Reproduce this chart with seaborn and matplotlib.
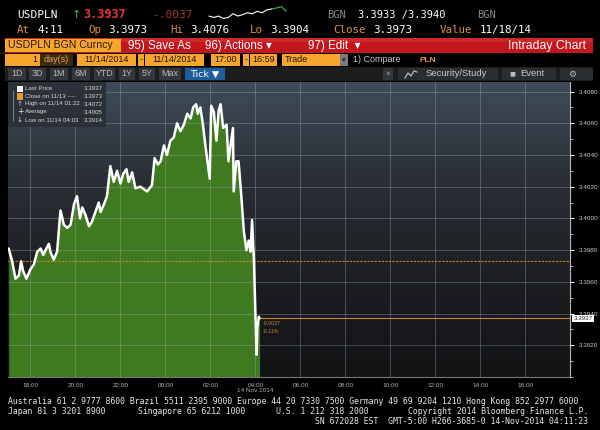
import numpy as np
import pandas as pd
import matplotlib
matplotlib.use("Agg")
import matplotlib.pyplot as plt
import matplotlib.dates as mdates
import matplotlib.transforms as mtransforms
from matplotlib.patches import Rectangle
from matplotlib.colors import LinearSegmentedColormap
from matplotlib.ticker import FormatStrFormatter, MultipleLocator
import seaborn as sns

# intraday ticks USDPLN, 13 Nov 17:00 -> 14 Nov 04:11
times = ["17:02", "17:11", "17:20", "17:29", "17:35", "17:40", "17:49", "18:00", "18:09", "18:18",
         "18:27", "18:34", "18:40", "18:49", "18:53", "19:02", "19:11", "19:20", "19:29", "19:38",
         "19:47", "19:56", "20:04", "20:12", "20:18", "20:27", "20:36", "20:44", "20:53", "21:02",
         "21:07", "21:16", "21:24", "21:33", "21:42", "21:51", "22:00", "22:07", "22:16", "22:22",
         "22:31", "22:40", "22:53", "23:11", "23:24", "23:31", "23:40", "23:47", "23:56", "00:04",
         "00:13", "00:22", "00:31", "00:40", "00:49", "00:58", "01:07", "01:14", "01:22", "01:26",
         "01:33", "01:40", "01:47", "01:58", "02:02", "02:09", "02:16", "02:22", "02:27", "02:34",
         "02:43", "02:48", "02:53", "03:00", "03:02", "03:09", "03:15", "03:22", "03:29", "03:36",
         "03:42", "03:47", "03:51", "03:56", "04:03", "04:05", "04:09", "04:11"]
prices = [3.3981, 3.3973, 3.3962, 3.3964, 3.3973, 3.3967, 3.3962, 3.3968, 3.3971, 3.3979,
          3.3981, 3.3977, 3.3980, 3.3984, 3.3979, 3.3974, 3.3979, 3.4005, 3.3996, 3.3994,
          3.3996, 3.4009, 3.4014, 3.4000, 3.4007, 3.4002, 3.3995, 3.3998, 3.4004, 3.4010,
          3.4004, 3.4009, 3.4014, 3.4033, 3.4023, 3.4030, 3.4022, 3.4028, 3.4031, 3.4023,
          3.4029, 3.4019, 3.4020, 3.4017, 3.4021, 3.4038, 3.4034, 3.4036, 3.4046, 3.4040,
          3.4049, 3.4051, 3.4060, 3.4055, 3.4059, 3.4066, 3.4063, 3.4070, 3.4072, 3.4066,
          3.4070, 3.4059, 3.4045, 3.4025, 3.4071, 3.4067, 3.4049, 3.4068, 3.4072, 3.4057,
          3.4059, 3.4036, 3.4045, 3.4057, 3.4017, 3.4036, 3.4036, 3.4015, 3.3992, 3.3980,
          3.3986, 3.3979, 3.3999, 3.3973, 3.3914, 3.3931, 3.3938, 3.3937]

close_prev = 3.3973
last_price = 3.3937
y_ticks = [3.3920, 3.3940, 3.3960, 3.3980, 3.4000, 3.4020, 3.4040, 3.4060, 3.4080]
y_range = (3.3900, 3.4086)

legend_rows = ["Last Price", "Close on 11/13 ----", "High on 11/14 01:22", "Average", "Low on 11/14 04:03"]
legend_vals = ["3.3937", "3.3973", "3.4072", "3.4005", "3.3914"]

# little header sparkline
spark_white = [5, 2, 5, 0, 2, 10, 5, 8, 12, 10, 15, 12, 18, 20]
spark_green = [20, 22, 25, 15]

footer = [
    "Australia 61 2 9777 8600 Brazil 5511 2395 9000 Europe 44 20 7330 7500 Germany 49 69 9204 1210 Hong Kong 852 2977 6000",
    "SN 672028 EST  GMT-5:00 H266-3685-0 14-Nov-2014 04:11:23",
]


def stamp(t):
    day = "2014-11-13" if int(t[:2]) >= 17 else "2014-11-14"
    return pd.Timestamp(f"{day} {t}")


df = pd.DataFrame({"time": [stamp(t) for t in times], "price": prices})

sns.set_style("dark")
SANS = ["Liberation Sans", "DejaVu Sans"]
MONO = ["DejaVu Sans Mono"]
plt.rcParams["font.family"] = SANS

W, H = 600, 430
fig = plt.figure(figsize=(6, 4.3), dpi=100, facecolor="black")


def box(x, y, w, h, color, z=1, alpha=1.0):
    fig.add_artist(Rectangle((x / W, 1 - (y + h) / H), w / W, h / H, transform=fig.transFigure,
                             facecolor=color, edgecolor="none", zorder=z, alpha=alpha))


def put(x, y, s, color="white", size=7, ha="left", family=SANS, weight="normal", z=6):
    fig.text(x / W, 1 - y / H, s, color=color, fontsize=size, ha=ha, va="center",
             family=family, fontweight=weight, zorder=z)


# ---- header rows
ORG = "#d9933f"
put(17, 15, "USDPLN", size=8, family=MONO)
put(72, 15, "↑", color="#3cc23c", size=8, family=["DejaVu Sans"])
put(83, 15, "3.3937", color="#e8383a", size=8.5, family=MONO, weight="bold")
put(152, 15, "-.0037", color="#a83a3a", size=8, family=MONO)
put(327, 15, "BGN", color="#8a8a8a", size=7.5, family=MONO)
put(358, 15, "3.3933 /3.3940", size=7.5, family=MONO)
put(477, 15, "BGN", color="#8a8a8a", size=7.5, family=MONO)

row2 = [(17, "At", ORG), (38, "4:11", "white"), (88, "Op", ORG), (108, "3.3973", "white"),
        (170, "Hi", ORG), (190, "3.4076", "white"), (250, "Lo", ORG), (270, "3.3904", "white"),
        (333, "Close", ORG), (373, "3.3973", "white"), (440, "Value", ORG), (480, "11/18/14", "white")]
for x, s, c in row2:
    put(x, 30, s, color=c, size=7.8, family=MONO)

sp = fig.add_axes([205 / W, 1 - 19 / H, 85 / W, 13 / H])
n_w = len(spark_white)
sns.lineplot(x=list(range(n_w)), y=spark_white, ax=sp, color="white", lw=0.8)
sns.lineplot(x=list(range(n_w - 1, n_w - 1 + len(spark_green))), y=spark_green, ax=sp, color="#3cc23c", lw=0.8)
sp.axis("off")

# red toolbar
box(5, 38, 588, 15, "#c3161c")
box(5, 38, 588, 4, "#d83a3a", z=1.1, alpha=0.5)
box(5, 39, 116, 13, "#f6a62d", z=2)
put(8, 45.5, "USDPLN BGN Curncy", color="#2a1800", size=7.6)
put(128, 45.5, "95) Save As", size=8.4)
put(205, 45.5, "96) Actions ▾", size=8.4)
put(308, 45.5, "97) Edit  ▾", size=8.4)
put(586, 45.5, "Intraday Chart", size=8.8, ha="right")

# orange parameter row
for x0, w0, label, ha in [(5, 35, "1", "right"), (77, 59, "11/14/2014", "center"), (145, 59, "11/14/2014", "center"),
                          (211, 29, "17:00", "center"), (250, 27, "16:59", "center"), (282, 58, "Trade", "left")]:
    box(x0, 54, w0, 12, "#f6a62d", z=2)
    tx = {"right": x0 + w0 - 3, "center": x0 + w0 / 2, "left": x0 + 3}[ha]
    put(tx, 60, label, color="#1e1200", size=6.5, ha=ha)
box(40, 54, 33, 12, "#3b2c10", z=2)
put(56, 60, "day(s)", color="#e0a858", size=6.5, ha="center")
for x0 in (138, 243):
    box(x0, 54, 6, 12, "#f6a62d", z=2)
    put(x0 + 3, 60, "-", color="#1e1200", size=6.3, ha="center")
box(340, 54, 8, 12, "#7a7a7a", z=2)
put(344, 60, "▾", color="#202020", size=5, ha="center", family=["DejaVu Sans"])
put(353, 60, "1) Compare", color="#c8c8c8", size=6.5)
put(420, 60, "PLN", color=ORG, size=6, weight="bold")

# grey button row
box(5, 67, 588, 14, "#1b1d1f")
for x0, w0, label in [(8, 18, "1D"), (29, 17, "3D"), (50, 18, "1M"), (72, 18, "6M"), (94, 21, "YTD"),
                      (119, 16, "1Y"), (139, 16, "5Y"), (159, 22, "Max")]:
    box(x0, 68, w0, 12, "#34373a", z=2)
    put(x0 + w0 / 2, 74, label, color="#b8b8b8", size=6.4, ha="center")
box(185, 68, 40, 12, "#1f5e9e", z=2)
put(190, 74, "Tick ▼", size=6.8, family=["DejaVu Sans"])
box(383, 68, 10, 12, "#34373a", z=2)
put(388, 74, "«", color="#aaaaaa", size=5.5, ha="center", family=["DejaVu Sans"])
box(398, 68, 100, 12, "#2b2e31", z=2)
# small chart glyph drawn as a line
fig.add_artist(plt.Line2D([405 / W, 408 / W, 411 / W, 414 / W, 417 / W],
                          [1 - 78 / H, 1 - 73 / H, 1 - 76 / H, 1 - 71 / H, 1 - 72 / H],
                          transform=fig.transFigure, color="#bbbbbb", lw=0.9, zorder=6))
put(426, 74, "Security/Study", color="#c8c8c8", size=6.8)
box(502, 68, 54, 12, "#2b2e31", z=2)
put(512, 74, "■", color="#bbbbbb", size=4.5, ha="center", family=["DejaVu Sans"])
put(520, 74, "Event", color="#c8c8c8", size=6.8)
box(560, 68, 33, 12, "#2b2e31", z=2)
put(572, 74, "⚙", color="#bbbbbb", size=6.5, ha="center", family=["DejaVu Sans"])

# ---- main chart
ax = fig.add_axes([8 / W, 1 - 377 / H, 562 / W, 295 / H])
green = "#3f7a20"
ax.fill_between(df["time"], df["price"], y_range[0], color=green, lw=0, zorder=2)
sns.lineplot(data=df, x="time", y="price", ax=ax, color="white", lw=1.8, zorder=4)

x0 = pd.Timestamp("2014-11-13 17:00")
x1 = pd.Timestamp("2014-11-14 17:59")
ax.axhline(close_prev, color="#c8862c", lw=0.8, ls=(0, (2, 1.2)), zorder=3)
ax.hlines(last_price, df["time"].iloc[-1], x1, color="#c8862c", lw=0.8, zorder=3)

bg = LinearSegmentedColormap.from_list("bg", ["#3f4b59", "#2a2f36", "#1c1e21", "#121315"])
ax.imshow(np.linspace(0, 1, 256).reshape(-1, 1), cmap=bg, extent=[0, 1, 0, 1],
          transform=ax.transAxes, aspect="auto", zorder=0)
ax.set_xlim(x0, x1)
ax.set_ylim(*y_range)

ax.set_axisbelow(False)
ax.grid(True, color="#a4aeba", lw=0.55, alpha=0.45)
ax.yaxis.tick_right()
ax.set_yticks(y_ticks)
ax.yaxis.set_major_formatter(FormatStrFormatter("%.4f"))
ax.yaxis.set_minor_locator(MultipleLocator(0.001))
ax.xaxis.set_major_locator(mdates.HourLocator(byhour=range(0, 24, 2)))
ax.xaxis.set_major_formatter(mdates.DateFormatter("%H:%M"))
ax.tick_params(axis="y", which="major", color="white", labelcolor="#c8c8c8", labelsize=4.6,
               length=3, width=0.8, pad=3.5, right=True, left=False)
ax.tick_params(axis="y", which="minor", color="#cccccc", length=1.8, width=0.6, right=True, left=False)
ax.tick_params(axis="x", color="#999999", labelcolor="#b0b0b0", labelsize=4.6, length=2, width=0.6, pad=2)
ax.set_xlabel("")
ax.set_ylabel("")
for side in ("top", "left"):
    ax.spines[side].set_visible(False)
ax.spines["right"].set_color("#b8b8b8")
ax.spines["right"].set_linewidth(0.8)
ax.spines["bottom"].set_color("#777777")
ax.spines["bottom"].set_linewidth(0.8)

blend = mtransforms.blended_transform_factory(ax.transAxes, ax.transData)
ax.text(1.006, last_price, f"{last_price:.4f}", transform=blend, color="#202020", fontsize=4.4,
        va="center", ha="left", clip_on=False, zorder=8,
        bbox=dict(facecolor="white", edgecolor="none", pad=0.9))
ax.text(pd.Timestamp("2014-11-14 04:19"), 3.39340, "-0.0037", color="#c8862c", fontsize=3.8, va="center", zorder=6)
ax.text(pd.Timestamp("2014-11-14 04:19"), 3.39288, "-0.11%", color="#c8862c", fontsize=3.8, va="center", zorder=6)

# legend panel
box(8, 82, 98, 45, "#2a2f36", z=5, alpha=0.92)
fig.add_artist(plt.Line2D([13 / W, 13 / W], [1 - 90 / H, 1 - 121 / H], transform=fig.transFigure,
                          color="#9aa0a8", lw=0.5, zorder=6))
row_y = [89, 96.5, 104, 112, 120]
for i, (lab, val) in enumerate(zip(legend_rows, legend_vals)):
    yy = row_y[i]
    put(25, yy, lab, color="#d8d8d8", size=4.4)
    put(103, yy, val, color="#d8d8d8", size=4.4, ha="right")
box(17, 85.5, 6, 6.5, "white", z=7)
box(17, 93, 6, 6.5, "#e49a30", z=7)
put(20, 104, "↑", color="#9fc6ff", size=5, ha="center", family=["DejaVu Sans"])
put(20, 112, "+", color="#e8e8e8", size=5.5, ha="center", family=["DejaVu Sans"])
put(20, 120, "↓", color="#e8e8e8", size=5, ha="center", family=["DejaVu Sans"])

put(255, 391, "14 Nov 2014", color="#b0b0b0", size=4.6, ha="center")

# footer
put(8, 401, footer[0], color="#e8e8e8", size=5.9, family=MONO)
put(8, 412, "Japan 81 3 3201 8900", color="#e8e8e8", size=5.9, family=MONO)
put(138, 412, "Singapore 65 6212 1000", color="#e8e8e8", size=5.9, family=MONO)
put(276, 412, "U.S. 1 212 318 2000", color="#e8e8e8", size=5.9, family=MONO)
put(588, 412, "Copyright 2014 Bloomberg Finance L.P.", color="#e8e8e8", size=5.9, family=MONO, ha="right")
put(588, 422, footer[1], color="#e8e8e8", size=5.9, family=MONO, ha="right")

fig.savefig("out.png", dpi=100, facecolor="black")
